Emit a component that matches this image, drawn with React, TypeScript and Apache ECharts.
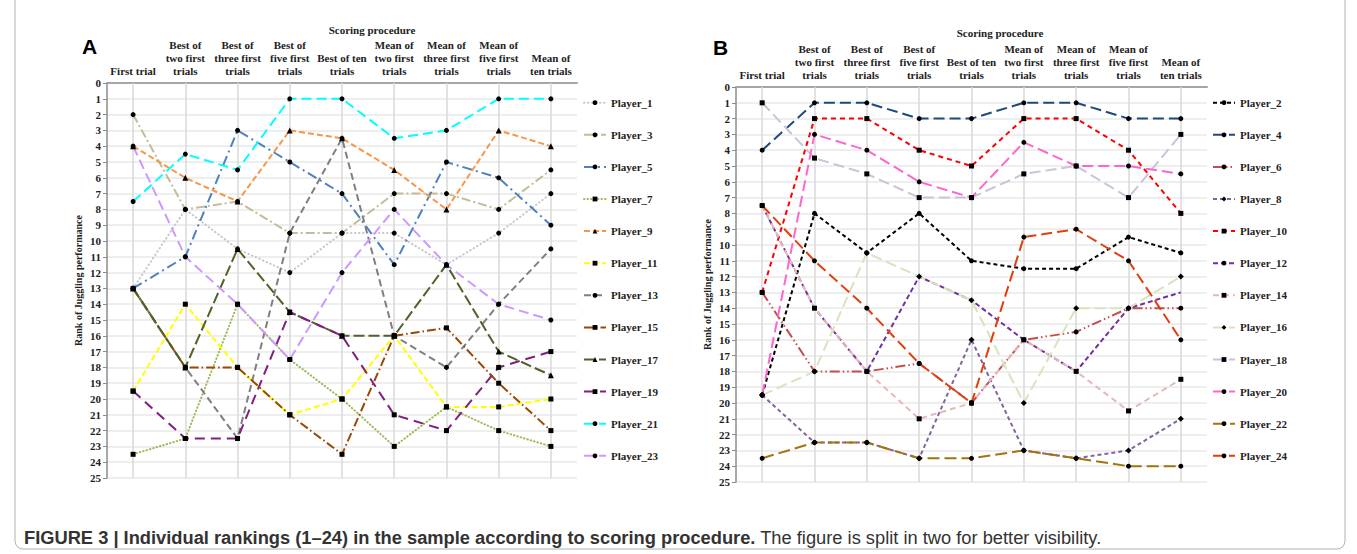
import React, { useEffect, useRef } from "react";
import * as echarts from "echarts";

const categories = [
  "First trial",
  "Best of\ntwo first\ntrials",
  "Best of\nthree first\ntrials",
  "Best of\nfive first\ntrials",
  "Best of ten\ntrials",
  "Mean of\ntwo first\ntrials",
  "Mean of\nthree first\ntrials",
  "Mean of\nfive first\ntrials",
  "Mean of\nten trials",
];

// Panel A (odd players)
const player1 = [13, 8, 10.5, 12, 9.5, 9.5, 11.5, 9.5, 7];
const player3 = [2, 8, 7.5, 9.5, 9.5, 7, 7, 8, 5.5];
const player5 = [13, 11, 3, 5, 7, 11.5, 5, 6, 9];
const player7 = [23.5, 22.5, 14, 17.5, 20, 23, 20.5, 22, 23];
const player9 = [4, 6, 7.5, 3, 3.5, 5.5, 8, 3, 4];
const player11 = [19.5, 14, 18, 21, 20, 16, 20.5, 20.5, 20];
const player13 = [13, 18, 22.5, 9.5, 3.5, 16, 18, 14, 10.5];
const player15 = [13, 18, 18, 21, 23.5, 16, 15.5, 19, 22];
const player17 = [13, 18, 10.5, 14.5, 16, 16, 11.5, 17, 18.5];
const player19 = [19.5, 22.5, 22.5, 14.5, 16, 21, 22, 18, 17];
const player21 = [7.5, 4.5, 5.5, 1, 1, 3.5, 3, 1, 1];
const player23 = [4, 11, 14, 17.5, 12, 8, 11.5, 14, 15];

// Panel B (even players)
const player2 = [19.5, 8, 10.5, 8, 11, 11.5, 11.5, 9.5, 10.5];
const player4 = [4, 1, 1, 2, 2, 1, 1, 2, 2];
const player6 = [13, 18, 18, 17.5, 20, 16, 15.5, 14, 14];
const player8 = [19.5, 22.5, 22.5, 23.5, 16, 23, 23.5, 23, 21];
const player10 = [13, 2, 2, 4, 5, 2, 2, 4, 8];
const player12 = [7.5, 14, 18, 12, 13.5, 16, 18, 14, 13];
const player14 = [7.5, 14, 18, 21, 20, 16, 18, 20.5, 18.5];
const player16 = [19.5, 18, 10.5, 12, 13.5, 20, 14, 14, 12];
const player18 = [1, 4.5, 5.5, 7, 7, 5.5, 5, 7, 3];
const player20 = [19.5, 3, 4, 6, 7, 3.5, 5, 5, 5.5];
const player22 = [23.5, 22.5, 22.5, 23.5, 23.5, 23, 23.5, 24, 24];
const player24 = [7.5, 11, 14, 17.5, 20, 9.5, 9, 11, 16];

const rankTicks = Array.from({ length: 26 }, (_, i) => String(i));

const SERIF = "'Liberation Serif', 'Times New Roman', serif";
const SANS = "'Liberation Sans', Arial, sans-serif";

type Spec = {
  name: string;
  data: number[];
  color: string;
  dash: number[];
  symbol: string;
  size: number;
  cap?: string;
  width?: number;
};

const panelA: Spec[] = [
  { name: "Player_1", data: player1, color: "#c8c8c8", dash: [0.5, 3.5], symbol: "circle", size: 5, cap: "round", width: 2 },
  { name: "Player_3", data: player3, color: "#c4bc96", dash: [9, 3, 2, 3], symbol: "circle", size: 5 },
  { name: "Player_5", data: player5, color: "#4f81bd", dash: [10, 4, 2, 4], symbol: "circle", size: 5 },
  { name: "Player_7", data: player7, color: "#9bbb59", dash: [0.5, 3], symbol: "rect", size: 5, cap: "round", width: 2 },
  { name: "Player_9", data: player9, color: "#f79646", dash: [6, 3], symbol: "triangle", size: 6 },
  { name: "Player_11", data: player11, color: "#ffff00", dash: [6, 3], symbol: "rect", size: 5 },
  { name: "Player_13", data: player13, color: "#7f7f7f", dash: [7, 4], symbol: "circle", size: 5 },
  { name: "Player_15", data: player15, color: "#984807", dash: [9, 3, 1.5, 3], symbol: "rect", size: 5 },
  { name: "Player_17", data: player17, color: "#4f6228", dash: [11, 4], symbol: "triangle", size: 6 },
  { name: "Player_19", data: player19, color: "#7f1f7f", dash: [10, 6], symbol: "rect", size: 5 },
  { name: "Player_21", data: player21, color: "#00ffff", dash: [10, 5], symbol: "circle", size: 5 },
  { name: "Player_23", data: player23, color: "#cc99ff", dash: [10, 5], symbol: "circle", size: 5 },
];

const panelB: Spec[] = [
  { name: "Player_2", data: player2, color: "#000000", dash: [4, 3], symbol: "circle", size: 5 },
  { name: "Player_4", data: player4, color: "#1f497d", dash: [11, 5], symbol: "circle", size: 5 },
  { name: "Player_6", data: player6, color: "#c0504d", dash: [10, 3, 1.5, 3, 1.5, 3], symbol: "circle", size: 5 },
  { name: "Player_8", data: player8, color: "#8064a2", dash: [4, 3], symbol: "diamond", size: 6 },
  { name: "Player_10", data: player10, color: "#ff0000", dash: [5, 4], symbol: "rect", size: 5 },
  { name: "Player_12", data: player12, color: "#7030a0", dash: [5, 3], symbol: "none", size: 0 },
  { name: "Player_14", data: player14, color: "#e6b9b8", dash: [6, 4], symbol: "rect", size: 5 },
  { name: "Player_16", data: player16, color: "#d7e4bd", dash: [11, 5], symbol: "diamond", size: 6 },
  { name: "Player_18", data: player18, color: "#ccc1da", dash: [11, 5], symbol: "rect", size: 5 },
  { name: "Player_20", data: player20, color: "#ff66cc", dash: [11, 5], symbol: "circle", size: 5 },
  { name: "Player_22", data: player22, color: "#a5730e", dash: [12, 5], symbol: "circle", size: 5 },
  { name: "Player_24", data: player24, color: "#e0400d", dash: [11, 5], symbol: "circle", size: 5 },
];

function makeSeries(specs: Spec[], idx: number) {
  return specs.map((s, i) => {
    const ser: any = {
      type: "line",
      name: s.name,
      xAxisIndex: idx,
      yAxisIndex: idx,
      data: s.data,
      symbol: s.symbol,
      symbolSize: s.size,
      showSymbol: s.symbol !== "none",
      itemStyle: { color: "#000000" },
      lineStyle: { color: s.color, width: s.width ?? 2, type: s.dash, cap: s.cap ?? "butt" },
      z: 3,
    };
    if (i === 0) {
      ser.markLine = {
        silent: true,
        symbol: ["none", "none"],
        label: { show: false },
        lineStyle: { color: "#d9d9d9", width: 1.5, type: "solid" },
        z: 1,
        data: categories.map((c) => ({ xAxis: c })),
      };
    }
    return ser;
  });
}

function makeLegend(specs: Spec[], left: number) {
  return {
    orient: "vertical",
    left,
    top: 92.2,
    itemWidth: 22,
    itemHeight: 6,
    itemGap: 21.1,
    data: specs.map((s) => s.name),
    textStyle: { fontFamily: SERIF, fontWeight: "bold", fontSize: 11, color: "#222" },
  };
}

function axisPair(idx: number) {
  const x = {
    type: "category",
    gridIndex: idx,
    position: "top",
    data: categories,
    boundaryGap: true,
    axisLine: { show: true, lineStyle: { color: "#a6a6a6", width: 2 } },
    axisTick: { show: false },
    splitLine: { show: false },
    axisLabel: {
      interval: 0,
      margin: 6,
      fontFamily: SERIF,
      fontWeight: "bold",
      fontSize: 11,
      lineHeight: 13,
      color: "#222",
    },
  };
  const y = {
    type: "value",
    gridIndex: idx,
    inverse: true,
    min: 0,
    max: 25,
    interval: 1,
    name: "Rank of Juggling performance",
    nameLocation: "middle",
    nameGap: 24,
    nameRotate: 90,
    nameTextStyle: { fontFamily: SERIF, fontWeight: "bold", fontSize: 10, color: "#222" },
    axisLine: { show: true, lineStyle: { color: "#8c8c8c", width: 1.5 } },
    axisTick: { show: true, length: 4, lineStyle: { color: "#8c8c8c" } },
    splitLine: { show: true, lineStyle: { color: "#e8e8e8", width: 1.5 } },
    axisLabel: {
      margin: 6,
      fontFamily: SERIF,
      fontWeight: "bold",
      fontSize: 11,
      color: "#222",
      formatter: (v: number) => rankTicks[v] ?? String(v),
    },
  };
  return { x, y };
}

export default function App() {
  const ref = useRef<HTMLDivElement>(null);
  useEffect(() => {
    if (!ref.current) return;
    const chart = echarts.init(ref.current, undefined, { renderer: "svg" });
    const a = axisPair(0);
    const b = axisPair(1);
    chart.setOption({
      animation: false,
      backgroundColor: "#ffffff",
      grid: [
        { left: 107, top: 83, width: 470, height: 395 },
        { left: 736, top: 87, width: 471, height: 395 },
      ],
      xAxis: [a.x, b.x],
      yAxis: [a.y, b.y],
      legend: [makeLegend(panelA, 578), makeLegend(panelB, 1207)],
      series: [...makeSeries(panelA, 0), ...makeSeries(panelB, 1)],
      graphic: [
        {
          type: "rect",
          shape: { x: 15, y: -20, width: 1330, height: 569, r: 8 },
          style: { fill: "none", stroke: "#b0b0b0", lineWidth: 1 },
          silent: true,
        },
        {
          type: "text",
          left: 82,
          top: 36,
          style: { text: "A", font: `bold 21px ${SANS}`, fill: "#000" },
        },
        {
          type: "text",
          left: 713,
          top: 37,
          style: { text: "B", font: `bold 21px ${SANS}`, fill: "#000" },
        },
        {
          type: "text",
          x: 372,
          y: 30,
          style: { text: "Scoring procedure", font: `bold 11px ${SERIF}`, fill: "#222", align: "center", verticalAlign: "middle" },
        },
        {
          type: "text",
          x: 1000,
          y: 33,
          style: { text: "Scoring procedure", font: `bold 11px ${SERIF}`, fill: "#222", align: "center", verticalAlign: "middle" },
        },
        {
          type: "text",
          x: 24,
          y: 537,
          style: {
            text: "{b|FIGURE 3 | Individual rankings (1–24) in the sample according to scoring procedure.}{r| The figure is split in two for better visibility.}",
            verticalAlign: "middle",
            rich: {
              b: { fontFamily: SANS, fontWeight: "bold", fontSize: 18.3, fill: "#333" },
              r: { fontFamily: SANS, fontWeight: "normal", fontSize: 18.3, fill: "#333" },
            },
          },
        },
      ],
    });
    return () => chart.dispose();
  }, []);
  return (
    <div
      ref={ref}
      style={{ position: "fixed", left: 0, top: 0, width: 1357, height: 554, background: "#fff" }}
    />
  );
}
